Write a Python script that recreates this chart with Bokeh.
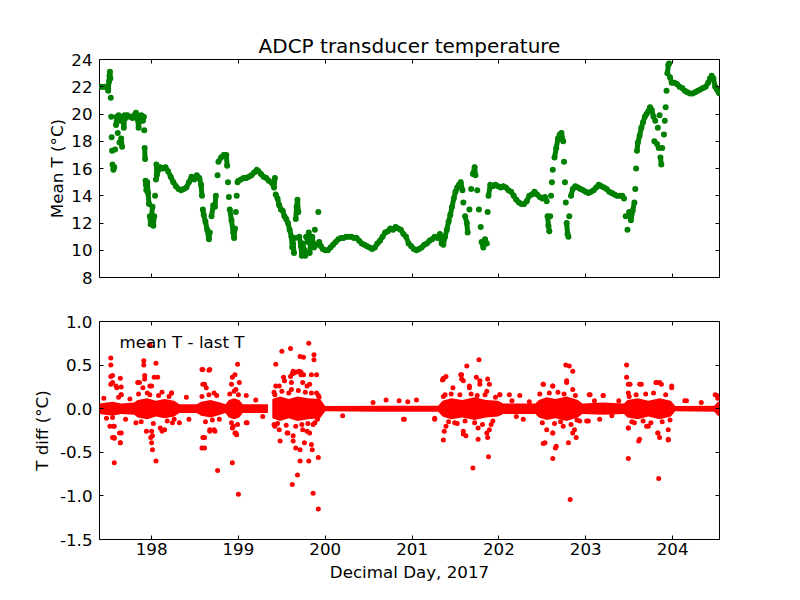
from bokeh.plotting import figure
from bokeh.models import Range1d, LinearAxis, SingleIntervalTicker, Label, NumeralTickFormatter
from bokeh.layouts import column
from bokeh.embed import file_html
from bokeh.resources import INLINE

FONT = "DejaVu Sans"
TICK_FS = "16.7px"
LABEL_FS = "16.7px"
TITLE_FS = "20px"

# ---- top panel: mean transducer temperature (decimal day, deg C) ----
t_day = [197.40, 197.43, 197.46, 197.49, 197.50, 197.51, 197.515, 197.52, 197.525, 197.53,
         197.535, 197.54, 197.545, 197.55, 197.56, 197.57, 197.58, 197.59, 197.60, 197.61,
         197.62, 197.63, 197.64, 197.65, 197.66, 197.67, 197.68, 197.69, 197.70, 197.72,
         197.75, 197.78, 197.80, 197.82, 197.84, 197.85, 197.86, 197.88, 197.90, 197.91,
         197.915, 197.92, 197.925, 197.93, 197.935, 197.94, 197.95, 197.96, 197.97, 197.98,
         197.99, 198.00, 198.01, 198.02, 198.03, 198.04, 198.05, 198.055, 198.06, 198.08,
         198.10, 198.13, 198.16, 198.19, 198.22, 198.25, 198.28, 198.31, 198.34, 198.37,
         198.40, 198.43, 198.46, 198.49, 198.52, 198.55, 198.57, 198.58, 198.59, 198.60,
         198.62, 198.64, 198.66, 198.67, 198.69, 198.71, 198.73, 198.74, 198.76, 198.77,
         198.80, 198.83, 198.86, 198.87, 198.88, 198.89, 198.90, 198.92, 198.94, 198.95,
         198.96, 198.97, 198.98, 198.99, 199.00, 199.03, 199.06, 199.09, 199.12, 199.15,
         199.18, 199.21, 199.23, 199.26, 199.29, 199.32, 199.35, 199.39, 199.41, 199.42,
         199.43, 199.45, 199.47, 199.49, 199.51, 199.53, 199.55, 199.57, 199.59, 199.61,
         199.62, 199.63, 199.64, 199.65, 199.66, 199.67, 199.68, 199.69, 199.70, 199.72,
         199.73, 199.74, 199.76, 199.77, 199.78, 199.80, 199.81, 199.82, 199.83, 199.85,
         199.87, 199.88, 199.90, 199.92, 199.93, 199.95, 199.97, 200.00, 200.03, 200.06,
         200.09, 200.12, 200.15, 200.18, 200.21, 200.24, 200.27, 200.30, 200.33, 200.36,
         200.39, 200.42, 200.45, 200.48, 200.51, 200.54, 200.57, 200.60, 200.63, 200.66,
         200.69, 200.72, 200.75, 200.78, 200.81, 200.84, 200.87, 200.90, 200.93, 200.96,
         200.99, 201.02, 201.05, 201.08, 201.11, 201.14, 201.17, 201.20, 201.23, 201.26,
         201.29, 201.32, 201.34, 201.36, 201.38, 201.40, 201.42, 201.44, 201.46, 201.48,
         201.50, 201.52, 201.54, 201.56, 201.58, 201.59, 201.61, 201.63, 201.64, 201.66,
         201.68, 201.70, 201.72, 201.73, 201.75, 201.77, 201.79, 201.80, 201.82, 201.84,
         201.86, 201.87, 201.88, 201.90, 201.93, 201.96, 201.99, 202.02, 202.05, 202.08,
         202.11, 202.14, 202.17, 202.20, 202.23, 202.26, 202.29, 202.32, 202.35, 202.38,
         202.41, 202.44, 202.47, 202.50, 202.53, 202.55, 202.56, 202.57, 202.58, 202.59,
         202.60, 202.61, 202.62, 202.64, 202.66, 202.68, 202.70, 202.72, 202.74, 202.75,
         202.76, 202.77, 202.78, 202.79, 202.80, 202.81, 202.83, 202.85, 202.88, 202.91,
         202.94, 202.97, 203.00, 203.03, 203.06, 203.09, 203.12, 203.15, 203.18, 203.21,
         203.24, 203.27, 203.30, 203.33, 203.36, 203.39, 203.42, 203.44, 203.46, 203.48,
         203.50, 203.52, 203.54, 203.56, 203.57, 203.58, 203.59, 203.60, 203.62, 203.64,
         203.66, 203.68, 203.70, 203.72, 203.74, 203.76, 203.78, 203.79, 203.80, 203.82,
         203.83, 203.84, 203.85, 203.86, 203.87, 203.88, 203.90, 203.91, 203.92, 203.93,
         203.94, 203.95, 203.96, 203.97, 203.99, 204.02, 204.05, 204.08, 204.11, 204.14,
         204.17, 204.20, 204.23, 204.26, 204.29, 204.32, 204.35, 204.38, 204.41, 204.43,
         204.45, 204.47, 204.49, 204.51, 204.53, 204.54]
t_mean = [22.0, 22.0, 22.0, 22.0, 21.7, 22.4, 22.8, 23.1, 22.6, 21.2,
          19.8, 18.3, 17.3, 16.3, 15.9, 16.1, 17.4, 19.2, 19.8, 18.6,
          19.9, 17.9, 19.5, 18.2, 17.6, 19.8, 19.0, 19.9, 19.7, 19.9,
          19.8, 19.7, 19.9, 20.1, 19.6, 19.0, 19.6, 19.9, 19.5, 19.8,
          18.8, 17.5, 16.7, 15.1, 14.8, 14.4, 15.0, 14.2, 13.4, 12.5,
          11.9, 12.5, 13.2, 11.8, 12.5, 14.0, 15.2, 16.3, 15.5, 15.9,
          16.1, 16.0, 16.1, 15.8, 15.4, 15.0, 14.7, 14.5, 14.4, 14.5,
          14.6, 15.0, 15.4, 15.2, 15.5, 15.3, 14.8, 14.0, 13.0, 12.6,
          12.1, 11.5, 10.8, 11.3, 12.5, 13.3, 13.2, 14.0, 15.5, 16.5,
          16.8, 17.0, 17.0, 16.2, 15.0, 13.9, 13.0, 12.2, 11.3, 10.9,
          11.6, 12.8, 14.0, 15.0, 15.1, 15.2, 15.3, 15.3, 15.4, 15.5,
          15.7, 15.9, 15.8, 15.6, 15.4, 15.3, 15.1, 14.9, 14.6, 15.3,
          14.1, 13.8, 13.3, 13.0, 12.9, 12.5, 12.3, 12.0, 11.5, 11.0,
          10.2, 10.5, 9.8, 10.9, 12.3, 13.2, 13.7, 12.8, 11.0, 10.3,
          9.6, 10.5, 10.0, 9.6, 11.0, 10.6, 11.3, 9.8, 10.5, 11.0,
          10.2, 11.5, 10.4, 12.8, 10.6, 10.3, 10.1, 10.0, 10.0, 10.2,
          10.4, 10.6, 10.8, 10.9, 10.9, 11.0, 11.0, 11.0, 10.9, 10.9,
          10.7, 10.5, 10.4, 10.3, 10.2, 10.1, 10.2, 10.5, 10.7, 11.0,
          11.3, 11.4, 11.6, 11.5, 11.7, 11.6, 11.5, 11.2, 11.0, 10.5,
          10.3, 10.1, 10.0, 10.1, 10.2, 10.4, 10.5, 10.7, 10.8, 11.0,
          10.9, 11.2, 10.5, 10.4, 11.0, 11.5, 12.1, 12.6, 13.2, 13.8,
          14.3, 14.6, 14.8, 15.0, 14.4, 13.5, 12.5, 12.0, 11.3, 13.0,
          14.5, 15.6, 16.1, 15.5, 14.4, 13.0, 11.7, 10.6, 10.2, 10.8,
          10.5, 12.8, 14.0, 14.8, 14.7, 14.8, 14.7, 14.6, 14.7, 14.6,
          14.4, 14.3, 14.0, 13.7, 13.5, 13.4, 13.4, 13.6, 14.0, 14.1,
          14.3, 14.1, 13.9, 13.8, 13.9, 13.6, 12.5, 11.8, 11.4, 12.5,
          14.0, 15.0, 15.9, 16.8, 17.5, 18.2, 18.5, 18.6, 18.0, 16.5,
          15.0, 13.5, 12.0, 11.2, 11.0, 12.5, 14.0, 14.5, 14.7, 14.6,
          14.5, 14.4, 14.3, 14.2, 14.3, 14.4, 14.6, 14.8, 14.7, 14.6,
          14.5, 14.3, 14.2, 14.1, 14.0, 14.0, 14.0, 13.8, 12.5, 11.5,
          12.8, 12.2, 12.9, 13.5, 14.5, 16.0, 17.3, 17.9, 18.4, 19.0,
          19.4, 19.8, 20.0, 20.2, 20.5, 20.3, 19.8, 18.0, 19.5, 17.8,
          19.0, 17.5, 19.9, 16.8, 16.3, 17.5, 18.5, 19.5, 20.5, 21.7,
          23.0, 23.6, 23.7, 22.7, 22.3, 22.3, 22.2, 22.0, 21.9, 21.7,
          21.6, 21.5, 21.5, 21.6, 21.7, 21.8, 21.9, 22.0, 22.3, 22.6,
          22.8, 22.6, 22.0, 21.8, 21.6, 21.5]

# ---- bottom panel: mean T - last T ----
# half-width of the solid cloud of samples around zero (deg C)
band_day = [197.40, 197.55, 197.65, 197.80, 197.84, 197.95, 198.05, 198.15, 198.26, 198.32,
            198.52, 198.57, 198.68, 198.79, 198.85, 198.89, 198.95, 199.01, 199.05, 199.34,
            199.39, 199.48, 199.58, 199.68, 199.80, 199.94, 200.00, 200.60, 201.30,
            201.35, 201.45, 201.58, 201.72, 201.85, 201.99, 202.05, 202.42,
            202.46, 202.55, 202.65, 202.78, 202.91, 202.96, 203.20, 203.44,
            203.48, 203.60, 203.72, 203.85, 203.98, 204.03, 204.48, 204.52, 204.54]
band_half = [0.06, 0.08, 0.06, 0.07, 0.10, 0.12, 0.09, 0.11, 0.09, 0.05,
             0.05, 0.08, 0.10, 0.07, 0.05, 0.10, 0.12, 0.10, 0.05, 0.05,
             0.11, 0.14, 0.11, 0.14, 0.12, 0.11, 0.03, 0.035, 0.035,
             0.09, 0.12, 0.10, 0.13, 0.10, 0.09, 0.06, 0.06,
             0.10, 0.13, 0.11, 0.14, 0.10, 0.06, 0.07, 0.06,
             0.10, 0.12, 0.09, 0.12, 0.09, 0.03, 0.035, 0.08, 0.08]
band_gap = 199.365   # no samples between the two segments

# individual samples outside the solid cloud
d_day = [197.53, 197.53, 197.53, 197.57, 197.57, 197.64, 197.64, 197.91, 197.91, 197.98,
         198.05, 198.05, 198.01, 198.58, 198.66, 198.58, 198.76, 198.99, 199.00, 198.93,
         199.43, 199.50, 199.60, 199.81, 199.71, 199.75, 199.87, 199.87, 199.62, 199.68,
         199.86, 199.92, 199.71, 199.81, 199.92, 199.85, 199.64, 199.70, 199.75, 199.66,
         199.71, 199.62, 199.67, 199.72,
         197.55, 197.55, 197.65, 197.65, 197.60, 197.84, 197.92, 197.92, 198.03, 198.07,
         198.00, 198.23, 198.59, 198.61, 198.67, 198.96, 199.01, 198.93, 199.43, 199.52,
         199.63, 199.60, 199.72, 199.84, 199.90, 199.79,
         197.55, 197.56, 197.57, 197.63, 197.64, 197.94, 197.99, 198.00, 198.10, 198.12,
         198.24, 198.43, 198.59, 198.61, 198.67, 198.73, 198.93, 198.96, 198.98, 199.10,
         199.41, 199.48, 199.56, 199.63, 199.79, 199.76, 199.84, 200.20, 200.91,
         201.77, 201.63, 201.56, 201.35, 201.36, 201.36, 201.70, 201.88, 202.51, 202.77,
         202.81, 202.62, 202.65, 202.51, 202.82, 203.47, 203.47, 203.49, 203.84, 203.61,
         203.95,
         201.36, 201.39, 201.57, 201.59, 201.66, 201.74, 201.78, 201.87, 201.89, 202.01,
         202.12, 202.24, 202.62, 202.78, 202.85, 203.05, 203.20, 203.51, 203.62, 203.81,
         203.85, 203.99, 204.16, 204.49,
         200.90, 201.26, 201.37, 201.59, 201.62, 201.76, 201.87, 201.89, 202.28, 202.53,
         202.62, 202.66, 202.80, 202.85, 202.89, 203.01, 203.49, 203.62, 203.72, 203.83,
         203.95,
         197.53, 197.59, 197.65, 197.86, 197.90, 197.98, 197.98, 198.23, 198.40, 198.59,
         198.63, 198.72, 198.92, 198.97, 199.09,
         197.52, 197.57, 197.65, 197.55, 197.82, 198.00, 198.01, 198.15, 198.32, 198.67,
         198.72, 198.61, 198.94, 198.97, 199.09,
         199.47, 199.53, 199.61, 199.61, 199.74, 199.82, 199.90, 199.93, 199.42,
         199.42, 199.47, 199.57, 199.63, 199.74, 199.82, 199.86, 199.91,
         201.47, 201.57, 201.66, 201.78, 201.86, 202.01, 201.38, 202.51, 202.62, 202.78,
         202.85,
         201.26, 201.39, 201.49, 201.59, 201.76, 201.86, 201.91, 202.55, 202.62, 202.74,
         202.87,
         203.04, 203.20, 203.49, 203.49, 203.64, 203.81, 203.87, 203.99, 204.14, 204.33,
         202.93, 203.03, 203.16, 203.49, 203.56, 203.70, 203.83, 203.95, 203.85,
         200.55, 200.70, 200.85, 200.95, 201.05, 204.51, 204.52,
         197.45, 197.48, 197.62, 197.70, 197.75,
         197.85, 197.88, 197.95, 198.02, 198.08, 198.12, 198.18, 198.20, 198.26,
         198.58, 198.62, 198.66, 198.70, 198.75, 198.78,
         198.90, 198.92, 198.95, 198.99, 199.00, 199.20, 199.28,
         199.41, 199.45, 199.50, 199.55, 199.58, 199.66, 199.69, 199.73, 199.77, 199.80,
         199.84, 199.88, 199.92,
         201.36, 201.42, 201.45, 201.52, 201.55, 201.61, 201.68, 201.72, 201.75, 201.81,
         201.84, 201.93, 201.96,
         202.47, 202.50, 202.58, 202.64, 202.68, 202.71, 202.75, 202.83, 202.88, 202.90,
         203.50, 203.53, 203.58, 203.66, 203.69, 203.75, 203.78, 203.88, 203.92, 203.97,
         202.15, 202.20, 202.35, 203.10, 203.30, 203.38]
d_val = [0.58, 0.50, 0.37, -0.62, -0.34, 0.35, -0.39, 0.55, 0.50, 0.73,
         0.52, -0.60, -0.47, 0.45, 0.44, -0.45, -0.71, 0.51, -0.98, -0.62,
         0.51, 0.66, 0.69, 0.75, 0.60, 0.59, 0.62, 0.56, -0.87, -0.76,
         -0.97, -1.15, -0.60, -0.60, -0.56, -0.47, 0.41, 0.43, 0.39, -0.45,
         -0.47, 0.40, 0.42, 0.42,
         0.38, 0.30, 0.25, 0.16, 0.24, 0.30, 0.38, 0.34, 0.36, 0.36,
         0.26, 0.18, 0.45, 0.28, 0.45, 0.39, 0.30, 0.36, 0.26, 0.36,
         0.43, 0.37, 0.39, 0.39, 0.39, 0.26,
         -0.10, -0.20, -0.33, -0.28, -0.39, -0.26, -0.33, -0.39, -0.22, -0.26,
         -0.16, -0.12, -0.33, -0.45, -0.26, -0.26, -0.22, -0.28, -0.30, -0.16,
         -0.18, -0.37, -0.28, -0.37, -0.26, -0.39, -0.41, -0.08, -0.12,
         0.56, 0.49, 0.39, 0.33, 0.35, -0.36, -0.68, -0.55, 0.28, 0.50,
         0.49, -0.57, -0.45, -0.40, -1.04, 0.50, 0.36, -0.57, -0.80, -0.37,
         -0.36,
         0.34, 0.37, 0.39, 0.32, 0.26, 0.36, 0.32, 0.34, 0.28, 0.16,
         0.16, 0.15, 0.26, 0.30, 0.43, 0.16, 0.15, 0.28, 0.28, 0.30,
         0.30, 0.26, 0.09, 0.16,
         -0.12, -0.12, -0.26, -0.26, -0.31, -0.35, -0.33, -0.24, -0.12, -0.39,
         -0.28, -0.43, -0.39, -0.28, -0.33, -0.14, -0.22, -0.35, -0.20, -0.28,
         -0.35,
         0.28, 0.26, 0.16, 0.30, 0.24, 0.26, 0.16, 0.18, 0.13, 0.28,
         0.24, 0.18, 0.28, 0.22, 0.15,
         -0.20, -0.20, -0.28, -0.33, -0.16, -0.26, -0.31, -0.24, -0.16, -0.24,
         -0.24, -0.33, -0.20, -0.28, -0.16,
         0.26, 0.32, 0.30, 0.22, 0.30, 0.28, 0.18, 0.13, 0.16,
         -0.20, -0.24, -0.28, -0.31, -0.24, -0.28, -0.18, -0.12,
         0.24, 0.34, 0.24, 0.28, 0.20, 0.16, 0.16, 0.28, 0.26, 0.32,
         0.22,
         -0.11, -0.20, -0.16, -0.29, -0.22, -0.28, -0.18, -0.24, -0.28, -0.20,
         -0.24,
         0.16, 0.15, 0.28, 0.18, 0.28, 0.30, 0.28, 0.24, 0.09, 0.07,
         -0.14, -0.14, -0.12, -0.22, -0.16, -0.20, -0.28, -0.24, -0.33,
         0.07, 0.10, 0.09, 0.08, 0.10, 0.15, 0.12,
         0.12, -0.11, 0.13, -0.12, 0.11,
         0.17, -0.15, 0.18, -0.17, 0.15, 0.19, -0.14, 0.14, -0.12,
         0.14, -0.15, 0.16, -0.13, 0.15, -0.12,
         0.17, -0.16, 0.20, -0.18, 0.16, 0.10, -0.09,
         0.19, -0.17, 0.20, -0.19, 0.18, -0.20, 0.21, -0.18, 0.19, -0.17,
         0.18, -0.16, 0.15,
         0.14, -0.15, 0.17, -0.17, 0.16, -0.14, 0.17, -0.16, 0.15, -0.18,
         0.16, -0.14, 0.13,
         0.17, -0.16, 0.18, -0.17, 0.19, -0.15, 0.17, -0.18, 0.15, -0.13,
         0.14, -0.15, 0.16, -0.14, 0.17, -0.16, 0.18, -0.15, 0.16, -0.13,
         0.09, -0.09, 0.08, 0.09, -0.08, 0.09]

x_lo, x_hi = 197.40, 204.54
y1_lo, y1_hi = 8, 24
y2_lo, y2_hi = -1.5, 1.0


def style_axis(ax, interval, labels=True, standoff=7):
    ax.ticker = SingleIntervalTicker(interval=interval, num_minor_ticks=0)
    ax.major_tick_in = 4
    ax.major_tick_out = 0
    ax.major_tick_line_color = "black"
    ax.minor_tick_line_color = None
    ax.axis_line_color = None
    ax.major_label_text_font = FONT
    ax.major_label_text_color = "black"
    ax.major_label_text_font_size = TICK_FS if labels else "0px"
    ax.major_label_standoff = standoff if labels else 0
    ax.axis_label_text_font = FONT
    ax.axis_label_text_font_size = LABEL_FS
    ax.axis_label_text_font_style = "normal"
    ax.axis_label_text_color = "black"
    ax.axis_label_standoff = 10


def make_fig(y_lo, y_hi, y_int, height, top, bottom, title=None, x_labels=True):
    p = figure(width=791, height=height, x_range=Range1d(x_lo, x_hi),
               y_range=Range1d(y_lo, y_hi), output_backend="svg",
               toolbar_location=None, min_border_left=99, min_border_right=72,
               min_border_top=top, min_border_bottom=bottom, title=title)
    p.grid.visible = False
    p.outline_line_color = "black"
    p.outline_line_width = 1
    p.outline_line_alpha = 1
    p.background_fill_color = "white"
    p.border_fill_color = "white"
    xb = p.xaxis[0]
    yl = p.yaxis[0]
    style_axis(xb, 1, x_labels, standoff=3)
    style_axis(yl, y_int, True, standoff=7)
    ax_top = LinearAxis()
    style_axis(ax_top, 1, False)
    p.add_layout(ax_top, "above")
    ax_r = LinearAxis()
    style_axis(ax_r, y_int, False)
    p.add_layout(ax_r, "right")
    return p, xb, yl


p1, xb1, yl1 = make_fig(y1_lo, y1_hi, 2, 299, 59, 22,
                        title="ADCP transducer temperature", x_labels=False)
p1.title.text_font = FONT
p1.title.text_font_size = TITLE_FS
p1.title.text_font_style = "normal"
p1.title.align = "center"
p1.title.text_color = "black"
p1.title.standoff = 3
yl1.axis_label = "Mean T (°C)"
yl1.axis_label_standoff = 1

# connect consecutive samples that are close in value, leave fast jumps as dots
segs_x, segs_y = [], []
cur_x, cur_y = [t_day[0]], [t_mean[0]]
for i in range(1, len(t_day)):
    if abs(t_mean[i] - t_mean[i - 1]) <= 0.9:
        cur_x.append(t_day[i]); cur_y.append(t_mean[i])
    else:
        segs_x.append(cur_x); segs_y.append(cur_y)
        cur_x, cur_y = [t_day[i]], [t_mean[i]]
segs_x.append(cur_x); segs_y.append(cur_y)
p1.multi_line(segs_x, segs_y, line_color="#008000", line_width=5,
              line_cap="round", line_join="round")
p1.scatter(t_day, t_mean, size=6, color="#008000", line_width=0)

p2, xb2, yl2 = make_fig(y2_lo, y2_hi, 0.5, 292, 22, 52)
yl2.axis_label = "T diff (°C)"
yl2.axis_label_standoff = 5
yl2.formatter = NumeralTickFormatter(format="0.0")
xb2.axis_label = "Decimal Day, 2017"
xb2.axis_label_standoff = 4
seg1 = [i for i, d in enumerate(band_day) if d < band_gap]
seg2 = [i for i, d in enumerate(band_day) if d > band_gap]
for seg in (seg1, seg2):
    p2.varea(x=[band_day[i] for i in seg], y1=[-band_half[i] for i in seg],
             y2=[band_half[i] for i in seg], fill_color="#ff0000")
p2.scatter(d_day, d_val, size=5, color="#ff0000", line_width=0)
p2.add_layout(Label(x=197.63, y=0.77, text="mean T - last T", text_font=FONT,
                    text_font_size=LABEL_FS, text_baseline="middle", text_color="black"))

layout = column(p1, p2, spacing=0)
open("out.html", "w").write(file_html(layout, INLINE))
